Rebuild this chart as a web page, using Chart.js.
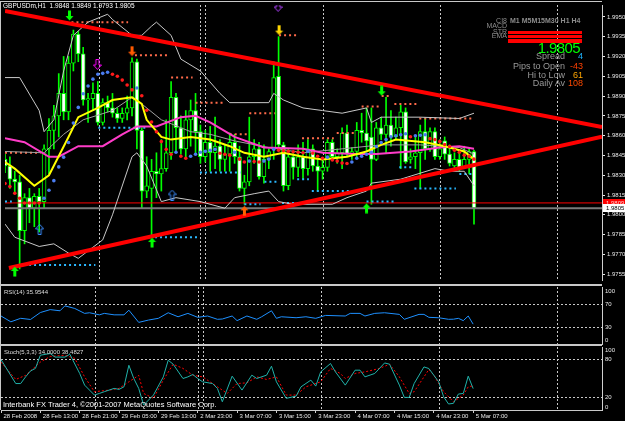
<!DOCTYPE html>
<html>
<head>
<meta charset="utf-8">
<title>GBPUSDm,H1</title>
<script src="https://cdn.jsdelivr.net/npm/chart.js@4.4.1/dist/chart.umd.min.js"></script>
<style>
  html, body { margin: 0; padding: 0; background: #000; }
  body { width: 625px; height: 421px; overflow: hidden; position: relative; font-family: "Liberation Sans", Arial, sans-serif; }
  canvas { position: absolute; left: 0; }
  .txt { position: absolute; white-space: nowrap; line-height: 1; }
  .rule { position: absolute; background: #c8c8c8; }
  .bar { position: absolute; left: 508px; width: 74px; background: #ff0000; }
</style>
</head>
<body>
<canvas id="mainChart" width="625" height="285" style="top:0"></canvas>
<canvas id="rsiChart" width="625" height="59" style="top:286px"></canvas>
<canvas id="stochChart" width="625" height="75" style="top:346px"></canvas>

<div class="rule" style="left:0;top:1px;width:602px;height:1px"></div>
<div class="rule" style="left:0;top:1px;width:1px;height:409px"></div>
<div class="rule" style="left:0;top:284px;width:602px;height:2px"></div>
<div class="rule" style="left:0;top:344px;width:602px;height:2px"></div>

<div class="txt" style="left:3px;top:3px;font-size:6.5px;color:#fff">GBPUSDm,H1&nbsp; 1.9848 1.9849 1.9793 1.9805</div>
<div class="txt" style="left:4px;top:289px;font-size:6px;color:#ddd">RSI(14) 35.9544</div>
<div class="txt" style="left:4px;top:349px;font-size:6px;color:#ddd">Stoch(5,3,3) 34.0000 38.4827</div>
<div class="txt" style="left:3px;top:400.5px;font-size:7.5px;color:#fff">Interbank FX Trader 4, ©2001-2007 MetaQuotes Software Corp.</div>

<div class="txt" style="right:118px;top:17.4px;font-size:7px;color:#8c8c8c">CI8</div>
<div class="txt" style="left:510px;top:17.4px;font-size:7px;font-weight:bold;color:#8c8c8c">M1 M5M15M30 H1 H4</div>
<div class="txt" style="right:118px;top:22.4px;font-size:7px;color:#8c8c8c">MACD</div>
<div class="txt" style="right:118px;top:27.8px;font-size:7px;color:#8c8c8c">STR</div>
<div class="txt" style="right:118px;top:32.4px;font-size:7px;color:#8c8c8c">EMA</div>
<div class="bar" style="top:31px;height:3px"></div>
<div class="bar" style="top:35px;height:3px"></div>
<div class="bar" style="top:39px;height:4px"></div>
<div class="txt" style="right:45px;top:39.7px;font-size:15px;letter-spacing:-0.6px;color:#00ff00">1.9805</div>
<div class="txt" style="right:60px;top:51.8px;font-size:9px;color:#999">Spread</div>
<div class="txt" style="right:42px;top:51.8px;font-size:9px;color:#1eb4ff">4</div>
<div class="txt" style="right:60px;top:61.5px;font-size:9px;color:#999">Pips to Open</div>
<div class="txt" style="right:42px;top:61.5px;font-size:9px;color:#ff4000">-43</div>
<div class="txt" style="right:60px;top:70.5px;font-size:9px;color:#999">Hi to Low</div>
<div class="txt" style="right:42px;top:70.5px;font-size:9px;color:#ffa500">61</div>
<div class="txt" style="right:60px;top:79px;font-size:9px;color:#999">Daily Av</div>
<div class="txt" style="right:42px;top:79px;font-size:9px;color:#ff4a00">108</div>

<script>
// ---- price bars (H1), index 0 = 28 Feb 2008 05:00 ----
const open = [1.9842,1.9837,1.9827,1.9825,1.9788,1.9813,1.9805,1.9814,1.9810,1.9850,
  1.9864,1.9875,1.9892,1.9878,1.9915,1.9937,1.9922,1.9887,1.9888,1.9892,
  1.9870,1.9885,1.9881,1.9877,1.9873,1.9877,1.9881,1.9916,1.9864,1.9818,
  1.9820,1.9833,1.9831,1.9835,1.9847,1.9889,1.9866,1.9850,1.9872,1.9879,
  1.9863,1.9844,1.9855,1.9847,1.9852,1.9842,1.9846,1.9855,1.9844,1.9820,
  1.9825,1.9844,1.9850,1.9829,1.9842,1.9850,1.9905,1.9853,1.9822,1.9844,
  1.9836,1.9844,1.9835,1.9850,1.9837,1.9833,1.9836,1.9855,1.9844,1.9847,
  1.9862,1.9846,1.9848,1.9864,1.9862,1.9859,1.9842,1.9866,1.9861,1.9868,
  1.9859,1.9866,1.9878,1.9842,1.9844,1.9847,1.9863,1.9850,1.9863,1.9844,
  1.9856,1.9846,1.9837,1.9842,1.9836,1.9842,1.9848];
const high = [1.9846,1.9844,1.9833,1.9830,1.9816,1.9820,1.9816,1.9820,1.9853,1.9873,
  1.9883,1.9907,1.9920,1.9920,1.9940,1.9939,1.9927,1.9892,1.9900,1.9901,
  1.9888,1.9890,1.9892,1.9881,1.9881,1.9890,1.9919,1.9918,1.9866,1.9844,
  1.9842,1.9847,1.9857,1.9872,1.9901,1.9892,1.9875,1.9879,1.9887,1.9892,
  1.9868,1.9864,1.9867,1.9874,1.9857,1.9853,1.9862,1.9861,1.9852,1.9830,
  1.9874,1.9857,1.9855,1.9853,1.9850,1.9916,1.9935,1.9855,1.9850,1.9848,
  1.9853,1.9855,1.9857,1.9853,1.9842,1.9842,1.9857,1.9857,1.9850,1.9866,
  1.9868,1.9851,1.9870,1.9877,1.9881,1.9881,1.9870,1.9874,1.9889,1.9879,
  1.9874,1.9883,1.9881,1.9850,1.9859,1.9868,1.9873,1.9866,1.9866,1.9857,
  1.9859,1.9853,1.9847,1.9848,1.9852,1.9851,1.9849];
const low = [1.9832,1.9820,1.9816,1.9759,1.9778,1.9794,1.9791,1.9787,1.9805,1.9831,
  1.9850,1.9859,1.9872,1.9872,1.9909,1.9916,1.9883,1.9870,1.9879,1.9868,
  1.9868,1.9878,1.9874,1.9870,1.9870,1.9872,1.9875,1.9850,1.9805,1.9813,
  1.9783,1.9813,1.9818,1.9833,1.9842,1.9847,1.9846,1.9844,1.9852,1.9847,
  1.9839,1.9840,1.9833,1.9835,1.9833,1.9833,1.9833,1.9839,1.9818,1.9808,
  1.9822,1.9839,1.9827,1.9824,1.9835,1.9842,1.9850,1.9818,1.9819,1.9827,
  1.9829,1.9827,1.9830,1.9833,1.9818,1.9827,1.9833,1.9842,1.9839,1.9835,
  1.9844,1.9842,1.9844,1.9855,1.9848,1.9808,1.9841,1.9857,1.9847,1.9852,
  1.9857,1.9835,1.9839,1.9839,1.9835,1.9820,1.9842,1.9848,1.9842,1.9842,
  1.9842,1.9837,1.9835,1.9833,1.9835,1.9831,1.9793];
const close = [1.9837,1.9827,1.9825,1.9788,1.9813,1.9805,1.9814,1.9810,1.9850,1.9864,
  1.9875,1.9892,1.9878,1.9915,1.9937,1.9922,1.9887,1.9888,1.9892,1.9870,
  1.9885,1.9881,1.9877,1.9873,1.9877,1.9881,1.9916,1.9864,1.9818,1.9822,
  1.9833,1.9831,1.9835,1.9847,1.9889,1.9866,1.9850,1.9872,1.9879,1.9863,
  1.9844,1.9855,1.9847,1.9852,1.9842,1.9846,1.9855,1.9844,1.9820,1.9825,
  1.9844,1.9850,1.9829,1.9842,1.9848,1.9904,1.9853,1.9822,1.9844,1.9836,
  1.9844,1.9835,1.9850,1.9837,1.9833,1.9836,1.9855,1.9844,1.9847,1.9862,
  1.9846,1.9848,1.9864,1.9862,1.9856,1.9842,1.9866,1.9861,1.9868,1.9859,
  1.9866,1.9878,1.9840,1.9844,1.9847,1.9863,1.9850,1.9863,1.9844,1.9850,
  1.9846,1.9839,1.9842,1.9835,1.9842,1.9848,1.9805];

// coloured dot average (blue rising / red falling)
const dotMA = [1.98237,1.98215,1.98163,1.98126,1.98090,1.98090,1.98090,1.98090,1.98126,1.98186,
  1.98259,1.98363,1.98437,1.98548,1.98695,1.98814,1.98917,1.98976,1.99028,1.99065,
  1.99072,1.99080,1.99065,1.99050,1.99021,1.98984,1.98947,1.98961,1.98902,1.98792,
  1.98703,1.98629,1.98555,1.98496,1.98459,1.98474,1.98444,1.98429,1.98444,1.98459,
  1.98474,1.98481,1.98489,1.98496,1.98466,1.98459,1.98452,1.98474,1.98422,1.98400,
  1.98407,1.98404,1.98400,1.98407,1.98422,1.98496,1.98489,1.98485,1.98481,1.98477,
  1.98474,1.98470,1.98481,1.98466,1.98444,1.98429,1.98437,1.98415,1.98407,1.98392,
  1.98389,1.98400,1.98429,1.98444,1.98459,1.98474,1.98518,1.98548,1.98570,1.98592,
  1.98599,1.98607,1.98614,1.98592,1.98599,1.98603,1.98607,1.98577,1.98570,1.98555,
  1.98533,1.98518,1.98489,1.98474,1.98452,1.98444,1.98422];

// line indicators: [bar, price]
const upperBand = [[0,1.9904],[3,1.9904],[7,1.9879],[8,1.9863],[10,1.9872],[12,1.9909],[14,1.9936],[17,1.9946],[21,1.9952],[22,1.9948],[26,1.9936],[28,1.9936],[30,1.9943],[31,1.9946],[34,1.9936],[36,1.9918],[40,1.9909],[44,1.9892],[46,1.9885],[54,1.9885],[55,1.9892],[57,1.9887],[61,1.9881],[65,1.9879],[69,1.9877],[74,1.9881],[75,1.9870],[77,1.9874],[85,1.9874],[93,1.9873],[96,1.9877]];
const midBand = [[0,1.9848],[8,1.9847],[12,1.9861],[16,1.9872],[22,1.9879],[26,1.9889],[28,1.9884],[32,1.9872],[38,1.9863],[42,1.9861],[47,1.9856],[54,1.9851],[61,1.9847],[69,1.9850],[77,1.9853],[85,1.9853],[93,1.9851],[96,1.9846]];
const lowerBand = [[0,1.9793],[2,1.9783],[7,1.9776],[10,1.9778],[13,1.9771],[15,1.9767],[20,1.9781],[22,1.9800],[26,1.9844],[27,1.9847],[29,1.9837],[32,1.9810],[35,1.9813],[40,1.9810],[45,1.9805],[47,1.9813],[51,1.9816],[54,1.9818],[56,1.9810],[59,1.9808],[67,1.9808],[70,1.9813],[74,1.9818],[75,1.9824],[81,1.9827],[88,1.9835],[91,1.9833],[94,1.9833],[96,1.9822]];
const yellowMA = [[0,1.9840],[2,1.9835],[6,1.9822],[9,1.9830],[13,1.9859],[15,1.9874],[19,1.9881],[22,1.9887],[26,1.9889],[28,1.9884],[29,1.9872],[32,1.9859],[34,1.9857],[38,1.9859],[42,1.9857],[46,1.9852],[49,1.9847],[53,1.9844],[57,1.9847],[61,1.9844],[65,1.9842],[70,1.9844],[74,1.9848],[77,1.9853],[80,1.9857],[86,1.9855],[90,1.9852],[94,1.9848],[96,1.9842]];
const magentaMA = [[0,1.9858],[4,1.9855],[9,1.9844],[11,1.9844],[15,1.9852],[20,1.9852],[24,1.9861],[27,1.9867],[31,1.9867],[36,1.9874],[39,1.9875],[42,1.9870],[47,1.9859],[53,1.9851],[61,1.9850],[65,1.9847],[72,1.9846],[76,1.9846],[83,1.9848],[89,1.9851],[93,1.9852],[96,1.9850]];

// dotted levels: [fromBar, toBar, price]
const resistLevels = [[13.6,25.2,1.9946],[26.6,33.4,1.9921],[56.1,60.2,1.9936],[34,38.4,1.9904],[39,45.1,1.9885],[50,55.3,1.9877],[46,49.6,1.9861],[0,7.3,1.9847],[77.1,79.1,1.9890],[73,76.5,1.9882],[79.7,84.2,1.9884],[84.8,96,1.9873],[67.9,71.4,1.9862],[60.8,67.3,1.9858]];
const supportLevels = [[3.9,18.5,1.9762],[30.7,39.5,1.9783],[19.1,28.9,1.9866],[39.9,48.2,1.9832],[53.1,56.1,1.9825],[0,1.4,1.9810],[49,52.3,1.9808],[56.7,60.2,1.9809],[59.8,62.2,1.9827],[62.8,71,1.9818],[74,80.1,1.9810],[80.7,83.2,1.9836],[83.8,92.3,1.9820],[93,96,1.9831]];

// triangle trend lines
const upperTrend = [[0,1.99545],[122.2,1.98666]];
const lowerTrend = [[0.8,1.97597],[122.2,1.98592]];
const askPrice = 1.9809, bidPrice = 1.9805;

// signal arrows
const arrowBar = [2.0,13.2,18.9,26.0,30.1,55.9,56.1,49.0,7.1,34.2,74.0,77.1];
const arrowPrice = [1.9757,1.9951,1.9914,1.9924,1.9779,1.9958,1.9940,1.9803,1.9789,1.9815,1.9805,1.9894];
const arrowKind = ['upGreen','downGreen','downMagenta','downOrange','upGreen','downPurple','downYellow','upOrange','upBlue','upBlue','upGreen','downGreen'];

// oscillators: bar positions + values
const rsiBar = [0,2,4,6,8,10,12,13,15,17,18,20,21,23,25,26,28,30,32,34,36,38,40,42,44,45,47,48,50,52,53,55,56,57,60,62,64,66,70,71,73,74,76,78,81,82,85,86,87,89,91,92,93,94,95,96];
const rsiVal = [50,40,46,44,56,61,59,67.5,63,54.5,55.6,52,54.5,52,52,60,39,43,46,55.6,48.7,54.5,47.7,50,44.3,44.8,50,42,50,44.3,48.7,59,46,48.7,47,48.7,46,51,50,54.5,54.5,50,54.5,55.6,52.8,44.3,52.8,52.8,47.7,47,44.3,44.5,46,42,50,35.95];
const stochBar = [0,3,4,5,6,7,8,10,11,13,14,16,17,19,20,21,23,24,25,26,27,28,29,31,33,34,35,37,38,39,40,41,43,44,45,47,49,51,52,54,55,56,58,60,61,63,64,65,67,68,70,72,73,74,76,78,79,81,82,83,84,86,87,89,90,91,92,93,94,95,96];
const stochK = [80,42,42,52.6,62,66,87,89.6,84,84,88.5,58,39.5,23.7,26.3,29,34.3,32.7,36.8,71,50,34.3,7.9,23.7,52.6,79,72.7,50,52.6,56.4,50,44.7,42,34.3,13.1,53.7,31.6,55.3,50,55.3,69.5,44.7,18.5,22,36.8,47.4,37.9,60.5,73.8,60.5,39.5,63.2,63.2,52.6,58,74.7,72.7,39.5,20,20,42,68.4,65.8,44.7,21,9.5,10.6,25.3,26.3,53.7,34];
const signalBar = [0,3,5,8,10,13,15,17,19,22,24,26,28,29,31,33,35,37,39,41,44,46,48,50,52,54,56,58,60,62,65,67,69,70,72,74,77,79,81,83,84,87,88,90,92,94,95,96];
const stochD = [76,48.5,55,76,85,87,82,52.6,29,31.6,34.3,44.7,55,26.3,18.5,47.4,72.7,66,55.3,52.6,36.8,26.3,42,43.1,52.6,48.5,52.6,23.7,23.7,36.8,44.7,66,58,50,58,60.5,66,72.7,52.6,26.3,29,64.3,55.3,29,13.1,23.7,36.8,38.48];

// axes
const priceTicks = [1.9755,1.9770,1.9785,1.9800,1.9815,1.9830,1.9845,1.9860,1.9875,1.9890,1.9905,1.9920,1.9935,1.9950];
const timeTickBars = [0,8,16,24,32,40,48,56,64,72,80,88,96];
const timeLabels = ['28 Feb 2008','28 Feb 13:00','28 Feb 21:00','29 Feb 05:00','29 Feb 13:00','2 Mar 23:00','3 Mar 07:00','3 Mar 15:00','3 Mar 23:00','4 Mar 07:00','4 Mar 15:00','4 Mar 23:00','5 Mar 07:00'];
const gridBars = [19.3,40.1,41.1,65.1,89.1,113.1];
const X_MAX = 122.2;

Chart.defaults.font.family = '"Liberation Sans", Arial, sans-serif';
Chart.defaults.animation = false;

const pts = arr => arr.map(([x, y]) => ({ x, y }));
function levelData(levels) {
  const out = [];
  levels.forEach(([a, b, p]) => { out.push({ x: a, y: p }, { x: b, y: p }, { x: b, y: null }); });
  return out;
}
function arrowIcon(color, up, hollow) {
  const c = document.createElement('canvas');
  c.width = 9; c.height = 11;
  const g = c.getContext('2d');
  const shape = [[4.5,0.5],[8.5,5],[6,5],[6,10.5],[3,10.5],[3,5],[0.5,5]];
  g.beginPath();
  shape.forEach(([px, py], i) => { const yy = up ? py : 11 - py; if (i) g.lineTo(px, yy); else g.moveTo(px, yy); });
  g.closePath();
  if (hollow) { g.strokeStyle = color; g.lineWidth = 1; g.stroke(); }
  else { g.fillStyle = color; g.fill(); }
  return c;
}
const icons = {
  upGreen: arrowIcon('#00ff00', true, false),
  downGreen: arrowIcon('#00ff00', false, false),
  downMagenta: arrowIcon('#ff00ff', false, true),
  downOrange: arrowIcon('#ff5a00', false, false),
  downPurple: arrowIcon('#b040ff', false, true),
  downYellow: arrowIcon('#ffd700', false, false),
  upOrange: arrowIcon('#ff6000', true, false),
  upBlue: arrowIcon('#3a8cff', true, true)
};

function gridAxis() {
  return {
    type: 'linear', min: 0, max: X_MAX, offset: false, position: 'bottom',
    afterBuildTicks: s => { s.ticks = gridBars.map(v => ({ value: v })); },
    grid: { color: '#c8c8c8', lineWidth: 1, drawTicks: false, offset: false },
    border: { display: false, dash: [2, 2] },
    ticks: { display: false },
    afterFit: s => { s.height = 0; s.paddingLeft = 0; s.paddingRight = 0; }
  };
}
const hiddenX = { type: 'linear', min: 0, max: X_MAX, offset: false, display: false };
const noPad = s => { s.width = 23; s.paddingTop = 0; s.paddingBottom = 0; };

// ---------- main price chart ----------
const bodyColors = open.map((o, i) => close[i] < o ? '#ffffff' : '#000000');
const dotColors = dotMA.map((v, i) => (i > 0 && v > dotMA[i - 1]) ? '#4a7cf0' : '#ff1a1a');
const lineDs = (data, color, width, order, extra) => Object.assign({
  type: 'line', data: pts(data), borderColor: color, borderWidth: width, pointRadius: 0, tension: 0, order
}, extra || {});

const priceBoxes = {
  id: 'priceBoxes',
  afterDraw(chart) {
    const ctx = chart.ctx, ys = chart.scales.y;
    const box = (price, bg, fg) => {
      const y = Math.round(ys.getPixelForValue(price));
      ctx.fillStyle = bg; ctx.fillRect(603, y - 4, 22, 8);
      ctx.fillStyle = fg; ctx.font = '6px "Liberation Sans"'; ctx.textBaseline = 'middle'; ctx.textAlign = 'left';
      ctx.fillText(price.toFixed(4), 606, y + 0.5);
    };
    box(askPrice, '#ff0000', '#ffd0d0');
    box(bidPrice, '#ffffff', '#000000');
  }
};

new Chart(document.getElementById('mainChart'), {
  type: 'line',
  data: {
    datasets: [
      { type: 'line', data: arrowBar.map((b, i) => ({ x: b, y: arrowPrice[i] })), showLine: false,
        pointStyle: arrowKind.map(k => icons[k]), pointRadius: 4, order: 0 },
      lineDs(upperTrend, '#ff0000', 4, 1),
      lineDs(lowerTrend, '#ff0000', 4, 1),
      { type: 'line', data: dotMA.map((v, i) => ({ x: i, y: v })), showLine: false, pointRadius: 1.8,
        pointBackgroundColor: dotColors, pointBorderWidth: 0, order: 2 },
      lineDs(yellowMA, '#ffff00', 2, 3),
      lineDs(magentaMA, '#ff3cc8', 2, 4),
      lineDs(upperBand, '#c8c8c8', 1, 5),
      lineDs(midBand, '#a0a0a0', 1, 5),
      lineDs(lowerBand, '#c8c8c8', 1, 5),
      { type: 'line', data: levelData(resistLevels), borderColor: '#ff6a4a', borderWidth: 2, borderDash: [2, 3], pointRadius: 0, order: 6 },
      { type: 'line', data: levelData(supportLevels), borderColor: '#2ab8ff', borderWidth: 2, borderDash: [2, 3], pointRadius: 0, order: 6 },
      lineDs([[0, askPrice], [X_MAX, askPrice]], '#ff0000', 1, 7),
      lineDs([[0, bidPrice], [X_MAX, bidPrice]], '#7a7a7a', 2, 7),
      { type: 'bar', data: open.map((o, i) => ({ x: i, y: [o, close[i]] })), backgroundColor: bodyColors,
        borderColor: '#00ff00', borderWidth: 1, borderSkipped: false, barThickness: 4, minBarLength: 1, grouped: false, order: 8 },
      { type: 'bar', data: low.map((l, i) => ({ x: i, y: [l, high[i]] })), backgroundColor: '#00ff00',
        borderWidth: 0, barThickness: 1, grouped: false, order: 9 }
    ]
  },
  options: {
    responsive: false, devicePixelRatio: 1, animation: false,
    layout: { padding: { left: 1, top: 2, bottom: 1, right: 0 } },
    plugins: { legend: { display: false }, tooltip: { enabled: false } },
    scales: {
      x: hiddenX,
      xg: gridAxis(),
      y: {
        type: 'linear', position: 'right', min: 1.97506, max: 1.99590,
        afterBuildTicks: s => { s.ticks = priceTicks.map(v => ({ value: v })); },
        ticks: { color: '#e8e8e8', font: { size: 6 }, padding: 2, autoSkip: false, callback: v => v.toFixed(4) },
        grid: { drawOnChartArea: false, drawTicks: true, tickLength: 3, color: '#e8e8e8' },
        border: { display: true, color: '#d0d0d0' },
        afterFit: noPad
      }
    }
  },
  plugins: [priceBoxes]
});

// ---------- RSI ----------
new Chart(document.getElementById('rsiChart'), {
  type: 'line',
  data: { datasets: [{ data: rsiBar.map((b, i) => ({ x: b, y: rsiVal[i] })), borderColor: '#1e90ff', borderWidth: 1, pointRadius: 0, tension: 0 }] },
  options: {
    responsive: false, devicePixelRatio: 1, animation: false,
    layout: { padding: { left: 1, top: 1, bottom: 0, right: 0 } },
    plugins: { legend: { display: false }, tooltip: { enabled: false } },
    scales: {
      x: hiddenX,
      xg: gridAxis(),
      y: {
        type: 'linear', position: 'right', min: 0, max: 100,
        afterBuildTicks: s => { s.ticks = [8, 30, 70, 93].map(v => ({ value: v })); },
        ticks: { color: '#e8e8e8', font: { size: 6 }, padding: 3, autoSkip: false, callback: v => v === 8 ? '0' : v === 93 ? '100' : String(v) },
        grid: { color: c => (c.tick && (c.tick.value === 30 || c.tick.value === 70)) ? '#c8c8c8' : 'rgba(0,0,0,0)', drawTicks: false },
        border: { display: true, color: '#d0d0d0', dash: [2, 2] },
        afterFit: noPad
      }
    }
  }
});

// ---------- Stochastic ----------
new Chart(document.getElementById('stochChart'), {
  type: 'line',
  data: {
    datasets: [
      { data: stochBar.map((b, i) => ({ x: b, y: stochK[i] })), borderColor: '#20b2aa', borderWidth: 1, pointRadius: 0, tension: 0, order: 0 },
      { data: signalBar.map((b, i) => ({ x: b, y: stochD[i] })), borderColor: '#ff0000', borderWidth: 1, borderDash: [2, 2], pointRadius: 0, tension: 0, order: 1 }
    ]
  },
  options: {
    responsive: false, devicePixelRatio: 1, animation: false,
    layout: { padding: { left: 1, top: 1, bottom: 0, right: 0 } },
    plugins: { legend: { display: false }, tooltip: { enabled: false } },
    scales: {
      x: {
        type: 'linear', min: 0, max: X_MAX, offset: false, position: 'bottom',
        afterBuildTicks: s => { s.ticks = timeTickBars.map(v => ({ value: v })); },
        ticks: { color: '#e8e8e8', font: { size: 6 }, padding: 0, align: 'start', labelOffset: 2.5, maxRotation: 0, autoSkip: false,
          callback: (v, i) => timeLabels[i] },
        grid: { drawOnChartArea: false, drawTicks: true, tickLength: 3, color: '#d0d0d0' },
        border: { display: true, color: '#c8c8c8' },
        afterFit: s => { s.height = 11; s.paddingLeft = 0; s.paddingRight = 0; }
      },
      xg: gridAxis(),
      y: {
        type: 'linear', position: 'right', min: 0, max: 100,
        afterBuildTicks: s => { s.ticks = [5, 20, 80, 94].map(v => ({ value: v })); },
        ticks: { color: '#e8e8e8', font: { size: 6 }, padding: 3, autoSkip: false, callback: v => v === 5 ? '0' : v === 94 ? '100' : String(v) },
        grid: { color: c => (c.tick && (c.tick.value === 20 || c.tick.value === 80)) ? '#c8c8c8' : 'rgba(0,0,0,0)', drawTicks: false },
        border: { display: true, color: '#d0d0d0', dash: [2, 2] },
        afterFit: noPad
      }
    }
  }
});
</script>
</body>
</html>
